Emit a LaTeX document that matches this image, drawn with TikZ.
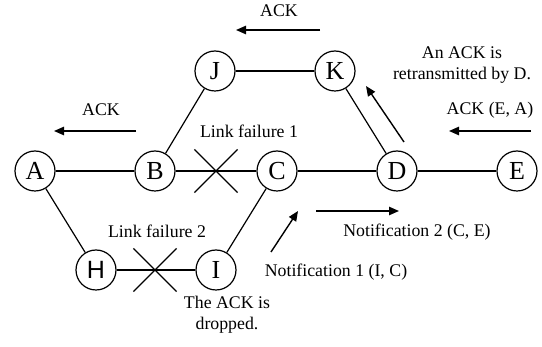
\documentclass[tikz,border=0pt]{standalone}
\usepackage{fontspec}
\setmainfont{Liberation Serif}
\newfontfamily\hfont{Liberation Sans}
\usetikzlibrary{arrows.meta,shapes.misc}
\begin{document}
\begin{tikzpicture}[x=0.5pt,y=-0.5pt,
  nd/.style={circle,draw,line width=0.6pt,minimum size=20pt,inner sep=0pt,font=\fontsize{13}{14}\selectfont},
  lbl/.style={font=\fontsize{8.9}{10.5}\selectfont,align=center,inner sep=0pt},
  ln/.style={line width=0.6pt},
  arr/.style={line width=0.7pt,-{Triangle[length=5pt,width=4.2pt]}},
  xmark/.style={cross out,draw,line width=0.6pt,minimum size=21pt,inner sep=0pt}]
\useasboundingbox (0,0) rectangle (542,347);
\node[nd] (A) at (35,171) {A};
\node[nd] (B) at (155,171) {B};
\node[nd] (C) at (277,171) {C};
\node[nd] (D) at (397,171) {D};
\node[nd] (E) at (517,171) {E};
\node[nd] (J) at (215,71) {J};
\node[nd] (K) at (335,71) {K};
\node[nd,font=\hfont\fontsize{12.5}{14}\selectfont] (H) at (96,270) {H};
\node[nd] (I) at (216,270) {I};
\draw[ln] (A) -- (B);
\draw[ln] (B) -- (C);
\draw[ln] (C) -- (D);
\draw[ln] (D) -- (E);
\draw[ln] (B) -- (J);
\draw[ln] (J) -- (K);
\draw[ln] (K) -- (D);
\draw[ln] (A) -- (H);
\draw[ln] (H) -- (I);
\draw[ln] (I) -- (C);
\node[xmark] (x1) at (216,171) {};
\node[xmark] (x2) at (155,270) {};
\node[lbl] (lf1) at (249,131) {Link failure 1};
\node[lbl] (lf2) at (157,231) {Link failure 2};
\node[lbl] (t1) at (279,11) {ACK};
\node[lbl] (t2) at (101,110) {ACK};
\node[lbl] (t3) at (462,65) {An ACK is\\retransmitted by D.};
\node[lbl] (t4) at (490,110) {ACK (E, A)};
\node[lbl] (t5) at (417,232) {Notification 2 (C, E)};
\node[lbl] (t6) at (336,272) {Notification 1 (I, C)};
\node[lbl] (t7) at (227,315) {The ACK is\\dropped.};
\coordinate (a1s) at (320,30); \coordinate (a1e) at (236,30);
\coordinate (a2s) at (136,131); \coordinate (a2e) at (54,131);
\coordinate (a3s) at (404,142); \coordinate (a3e) at (366,86);
\coordinate (a4s) at (531,131); \coordinate (a4e) at (449,131);
\coordinate (a5s) at (316,211); \coordinate (a5e) at (399,211);
\coordinate (a6s) at (271,252); \coordinate (a6e) at (298,211);
\draw[arr] (a1s) -- (a1e);
\draw[arr] (a2s) -- (a2e);
\draw[arr] (a3s) -- (a3e);
\draw[arr] (a4s) -- (a4e);
\draw[arr] (a5s) -- (a5e);
\draw[arr] (a6s) -- (a6e);
\end{tikzpicture}
\end{document}
